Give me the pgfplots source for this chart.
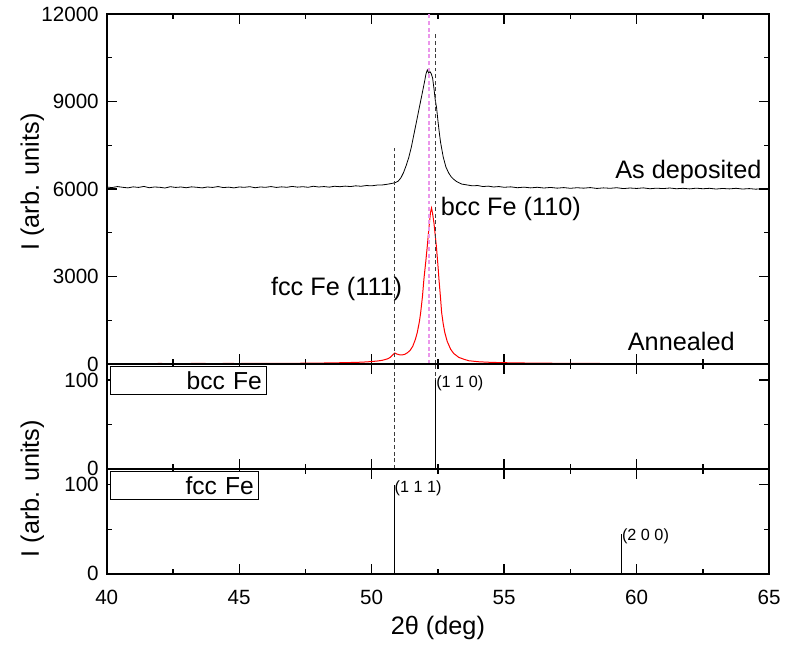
\documentclass[border=0pt]{standalone}
\usepackage{fontspec}
\setmainfont{Liberation Sans}
\usepackage{pgfplots}
\pgfplotsset{compat=1.18}

\definecolor{peakpink}{RGB}{235,150,235}
\definecolor{refdash}{RGB}{60,60,60}

\newcommand{\annfont}{\fontsize{19}{22}\selectfont}
\newcommand{\labfont}{\fontsize{19}{22}\selectfont}
\newcommand{\boxfont}{\fontsize{18.5}{21}\selectfont}
\newcommand{\hklfont}{\fontsize{12.2}{14}\selectfont}

\pgfplotsset{
  xrdpanel/.style={
    scale only axis, width=498pt,
    xmin=40, xmax=65,
    xtick={40,45,...,65}, minor x tick num=1,
    tick align=inside,
    major tick length=7.5pt, minor tick length=3.75pt,
    axis line style={line width=1.4pt},
    tick style={black, line width=1pt},
    scaled y ticks=false,
    ticklabel style={font=\fontsize{15.5}{18}\selectfont},
    xticklabel style={yshift=-9pt},
    yticklabel style={xshift=-2.5pt},
    /pgf/number format/assume math mode=true,
    /pgf/number format/1000 sep={},
    xlabel style={font=\labfont, yshift=-2pt},
  },
  refdashed/.style={refdash, line width=0.6pt, dash pattern=on 3pt off 2pt},
  stick/.style={ycomb, black, line width=0.75pt, no marks,
    nodes near coords, point meta=explicit symbolic,
    nodes near coords style={anchor=west, inner sep=0pt, yshift=-2.3pt, font=\hklfont}},
}

\begin{document}
\begin{tikzpicture}

% measured patterns
\begin{axis}[xrdpanel, at={(0,0)}, anchor=south west, height=263.25pt,
  ymin=0, ymax=12000, ytick={0,3000,...,12000}, minor y tick num=1,
  xticklabels={},
  ylabel={I (arb. units)},
  every axis y label/.style={at={([xshift=-56pt]rel axis cs:0,0.52)}, rotate=90, anchor=center, font=\labfont}]

% as deposited
\addplot[black, line width=0.6pt] coordinates {
(40.0,6070) (40.2,6050) (40.4,6085) (40.6,6060) (40.8,6040) (41.0,6075) (41.2,6055)
(41.4,6090) (41.6,6045) (41.8,6070) (42.0,6060) (42.2,6035) (42.4,6080) (42.6,6055)
(42.8,6070) (43.0,6045) (43.2,6075) (43.4,6060) (43.6,6040) (43.8,6070) (44.0,6055)
(44.2,6085) (44.4,6050) (44.6,6065) (44.8,6040) (45.0,6070) (45.2,6060) (45.4,6080)
(45.6,6045) (45.8,6070) (46.0,6060) (46.2,6085) (46.4,6055) (46.6,6075) (46.8,6060)
(47.0,6090) (47.2,6065) (47.4,6080) (47.6,6060) (47.8,6095) (48.0,6070) (48.2,6085)
(48.4,6065) (48.6,6095) (48.8,6080) (49.0,6100) (49.2,6085) (49.4,6110) (49.6,6095)
(49.8,6120) (50.0,6110) (50.2,6135) (50.4,6140) (50.6,6165) (50.8,6200) (50.9,6225)
(51.0,6270) (51.1,6380) (51.2,6560) (51.3,6800) (51.4,7080) (51.5,7450) (51.6,7900)
(51.7,8350) (51.8,8800) (51.9,9250) (52.0,9700) (52.05,9950) (52.1,10080) (52.15,9980)
(52.2,10020) (52.25,9950) (52.3,9800) (52.35,9450) (52.4,9050) (52.45,8780) (52.5,8350)
(52.55,7950) (52.6,7600) (52.7,7100) (52.8,6760) (52.9,6560) (53.0,6420) (53.1,6330)
(53.2,6260) (53.4,6170) (53.6,6140) (53.8,6110) (54.0,6120) (54.2,6085) (54.4,6100)
(54.6,6070) (54.8,6085) (55.0,6060) (55.25,6075) (55.5,6045) (55.75,6065) (56.0,6040)
(56.25,6060) (56.5,6035) (56.75,6055) (57.0,6030) (57.25,6050) (57.5,6025) (57.75,6045)
(58.0,6030) (58.25,6050) (58.5,6020) (58.75,6040) (59.0,6025) (59.25,6045) (59.5,6015)
(59.75,6035) (60.0,6020) (60.25,6040) (60.5,6010) (60.75,6030) (61.0,6015) (61.25,6035)
(61.5,6010) (61.75,6025) (62.0,6005) (62.25,6030) (62.5,6010) (62.75,6025) (63.0,6000)
(63.25,6020) (63.5,6005) (63.75,6025) (64.0,6000) (64.25,6015) (64.5,5995) (64.75,6015)
(65.0,6005)
};

% annealed
\addplot[red, line width=0.75pt] coordinates {
(40.0,18) (40.5,12) (41.0,20) (41.5,14) (42.0,22) (42.5,15) (43.0,19) (43.5,24)
(44.0,17) (44.5,22) (45.0,20) (45.5,26) (46.0,22) (46.5,28) (47.0,25) (47.5,32)
(48.0,35) (48.5,42) (49.0,50) (49.5,62) (49.8,75) (50.0,88) (50.2,105) (50.4,130)
(50.6,180) (50.7,230) (50.8,320) (50.87,380) (50.95,345) (51.05,320) (51.15,315)
(51.25,335) (51.35,390) (51.45,470) (51.55,610) (51.65,850) (51.72,1080) (51.8,1450)
(51.85,1770) (51.92,2350) (51.97,2900) (52.04,3500) (52.1,4050) (52.17,4750)
(52.22,5200) (52.26,5350) (52.3,5150) (52.35,4840) (52.44,4050) (52.5,3400)
(52.54,2900) (52.6,2250) (52.64,1770) (52.7,1380) (52.76,1080) (52.85,780)
(52.98,510) (53.1,360) (53.29,230) (53.5,160) (53.67,115) (54.04,80) (54.5,60)
(55,48) (56,35) (57,28) (58,22) (59,20) (60,18) (61,15) (62,16) (63,12) (64,14) (65,12)
};

% reference positions
\addplot[refdashed] coordinates {(50.85,0) (50.85,7400)};
\addplot[refdashed] coordinates {(52.42,0) (52.42,11350)};
\addplot[peakpink, line width=0.9pt, dash pattern=on 3pt off 2pt] coordinates {(52.16,0) (52.16,12000)};

\node[anchor=base east, inner sep=0pt, font=\annfont] at (axis cs:64.72,6360) {As deposited};
\node[anchor=base west, inner sep=0pt, font=\annfont] at (axis cs:52.6,5094) {bcc Fe (110)};
\node[anchor=base east, inner sep=0pt, font=\annfont] at (axis cs:51.16,2359) {fcc Fe (111)};
\node[anchor=base east, inner sep=0pt, font=\annfont] at (axis cs:63.71,455) {Annealed};
\end{axis}

% bcc Fe reference lines
\begin{axis}[xrdpanel, at={(0,0)}, anchor=north west, height=78.75pt,
  ymin=0, ymax=118, ytick={0,100}, minor ytick={50},
  xticklabels={}]
\addplot[refdashed] coordinates {(50.85,0) (50.85,118)};
\addplot[refdashed] coordinates {(52.42,0) (52.42,118)};
\addplot[stick] coordinates {(52.42,100) [(1 1 0)]};
\node[draw, line width=0.75pt, fill=white, anchor=north west,
  minimum height=21pt, text width=110.25pt, align=right,
  inner xsep=3.75pt, inner ysep=0pt, font=\boxfont]
  at ([xshift=2.25pt,yshift=-1.5pt]rel axis cs:0,1) {bcc Fe};
\end{axis}

% fcc Fe reference lines
\begin{axis}[xrdpanel, at={(0,-78.75pt)}, anchor=north west, height=78.75pt,
  ymin=0, ymax=118, ytick={0,100}, minor ytick={50},
  xlabel={2θ (deg)},
  ylabel={I (arb. units)},
  every axis y label/.style={at={([xshift=-56pt]rel axis cs:0,0.81)}, rotate=90, anchor=center, font=\labfont}]
\addplot[stick] coordinates {(50.85,100) [(1 1 1)] (59.43,45) [(2 0 0)]};
\node[draw, line width=0.75pt, fill=white, anchor=north west,
  minimum height=21pt, text width=104.25pt, align=right,
  inner xsep=3.75pt, inner ysep=0pt, font=\boxfont]
  at ([xshift=2.25pt,yshift=-1.5pt]rel axis cs:0,1) {fcc Fe};
\end{axis}

\path (-80.25pt,273.75pt) rectangle (508.5pt,-211.5pt);
\end{tikzpicture}
\end{document}
